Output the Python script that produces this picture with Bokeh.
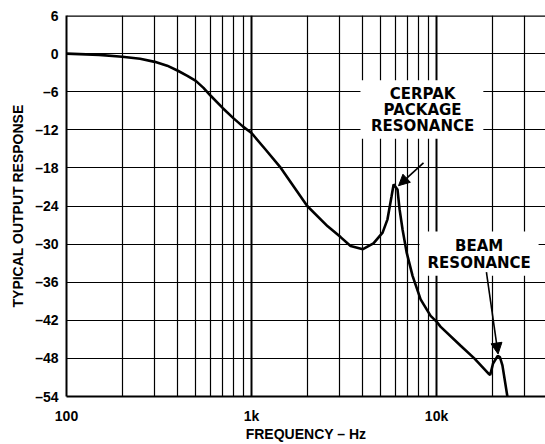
from bokeh.plotting import figure
from bokeh.models import (Range1d, FixedTicker, Span, BoxAnnotation, Label, Arrow, NormalHead)
from bokeh.embed import file_html
from bokeh.resources import INLINE

# ---- data ----
freq_hz = [100, 150, 200, 250, 300, 350, 400, 450, 500, 550, 600, 700, 800, 900, 1000,
           1190, 1440, 2000, 2580, 3030, 3430, 4000, 4560, 5110, 5430, 5710, 5860,
           6150, 6310, 6550, 6890, 7420, 8200, 9290, 10000, 10500, 13500, 16000,
           19100, 19500, 20200, 21400, 22000, 22700, 24300]
response_db = [0.0, -0.2, -0.5, -0.8, -1.3, -1.9, -2.7, -3.5, -4.3, -5.4, -6.6, -8.6, -10.2, -11.5, -12.5,
               -15.1, -18.0, -24.0, -27.2, -28.9, -30.3, -30.8, -29.9, -28.2, -26.1, -22.5, -20.6,
               -21.4, -24.5, -27.7, -31.3, -35.0, -38.7, -41.3, -42.2, -43.0, -46.0, -48.0,
               -50.4, -50.6, -48.8, -47.6, -47.8, -49.1, -54.5]

y_ticks = [-54, -48, -42, -36, -30, -24, -18, -12, -6, 0, 6]
y_labels = ["\u201354", "\u201348", "\u201342", "\u201336", "\u201330", "\u201324",
            "\u201318", "\u201312", "\u20136", "0", "6"]
x_major = [100, 1000, 10000]
x_major_labels = ["100", "1k", "10k"]
x_minor = [200, 300, 400, 500, 600, 700, 800, 900,
           2000, 3000, 4000, 5000, 6000, 7000, 8000, 9000,
           20000, 30000]

x_title = "FREQUENCY \u2013 Hz"
y_title = "TYPICAL OUTPUT RESPONSE"
cerpak_text = ["CERPAK", "PACKAGE", "RESONANCE"]
beam_text = ["BEAM", "RESONANCE"]

FONT = "Liberation Sans"
ANN_FONT = "DejaVu Sans"

p = figure(width=545, height=444, x_axis_type="log",
           x_range=Range1d(100, 38800), y_range=Range1d(-54, 6),
           output_backend="svg", toolbar_location=None,
           min_border_left=66, min_border_top=15, min_border_bottom=10, min_border_right=0)
p.outline_line_color = None
p.background_fill_color = "white"

# axes
p.xaxis.ticker = FixedTicker(ticks=x_major, minor_ticks=x_minor)
p.xaxis.major_label_overrides = dict(zip(x_major, x_major_labels))
p.yaxis.ticker = FixedTicker(ticks=y_ticks)
p.yaxis.major_label_overrides = dict(zip(y_ticks, y_labels))
for ax in (p.xaxis, p.yaxis):
    ax.axis_line_width = 2
    ax.axis_line_color = "black"
    ax.major_tick_line_color = None
    ax.minor_tick_line_color = None
    ax.major_tick_out = 0
    ax.major_tick_in = 0
    ax.minor_tick_out = 0
    ax.major_label_text_font = FONT
    ax.major_label_text_font_style = "bold"
    ax.major_label_text_font_size = "14px"
    ax.major_label_text_color = "black"
    ax.axis_label_text_font = FONT
    ax.axis_label_text_font_style = "bold"
    ax.axis_label_text_font_size = "14px"
    ax.axis_label_text_color = "black"
p.xaxis.major_label_text_line_height = 0.8
p.xaxis.axis_label_text_line_height = 0.8
p.xaxis.major_label_standoff = 11
p.xaxis.axis_label_standoff = -1
p.yaxis.major_label_text_line_height = 1.0
p.yaxis.axis_label_text_line_height = 1.0
p.yaxis.major_label_standoff = 8
p.yaxis.axis_label_standoff = 6
p.xaxis.axis_label = x_title
p.yaxis.axis_label = y_title

# grid
p.xgrid.grid_line_color = "black"
p.xgrid.grid_line_width = 2
p.xgrid.minor_grid_line_color = "black"
p.xgrid.minor_grid_line_width = 1.2
p.ygrid.grid_line_color = "black"
p.ygrid.grid_line_width = 1.2

# top border
p.add_layout(Span(location=6, dimension="width", line_color="black", line_width=2.5))

# curve
p.line(freq_hz, response_db, line_color="black", line_width=2.6)

# annotation boxes (white patches interrupting the grid)
p.add_layout(BoxAnnotation(left=3880, right=17900, top=-4.2, bottom=-13.4,
                           fill_color="white", fill_alpha=1, line_color=None, level="underlay"))
p.add_layout(BoxAnnotation(left=8100, right=35600, top=-28.0, bottom=-35.0,
                           fill_color="white", fill_alpha=1, line_color=None, level="underlay"))

for txt, yy in zip(cerpak_text, [-6.4, -8.9, -11.4]):
    p.add_layout(Label(x=8400, y=yy, text=txt, text_align="center", text_baseline="middle",
                       text_font=ANN_FONT, text_font_style="bold", text_font_size="15px",
                       text_color="black"))
for txt, yy in zip(beam_text, [-30.3, -32.9]):
    p.add_layout(Label(x=17000, y=yy, text=txt, text_align="center", text_baseline="middle",
                       text_font=ANN_FONT, text_font_style="bold", text_font_size="15px",
                       text_color="black"))

p.add_layout(Arrow(end=NormalHead(size=11, fill_color="black", line_color="black"),
                   x_start=8500, y_start=-17.2, x_end=6230, y_end=-20.8,
                   line_color="black", line_width=1.6))
p.add_layout(Arrow(end=NormalHead(size=11, fill_color="black", line_color="black"),
                   x_start=18600, y_start=-34.4, x_end=21500, y_end=-47.3,
                   line_color="black", line_width=1.6))

open("out.html", "w").write(file_html(p, INLINE))
